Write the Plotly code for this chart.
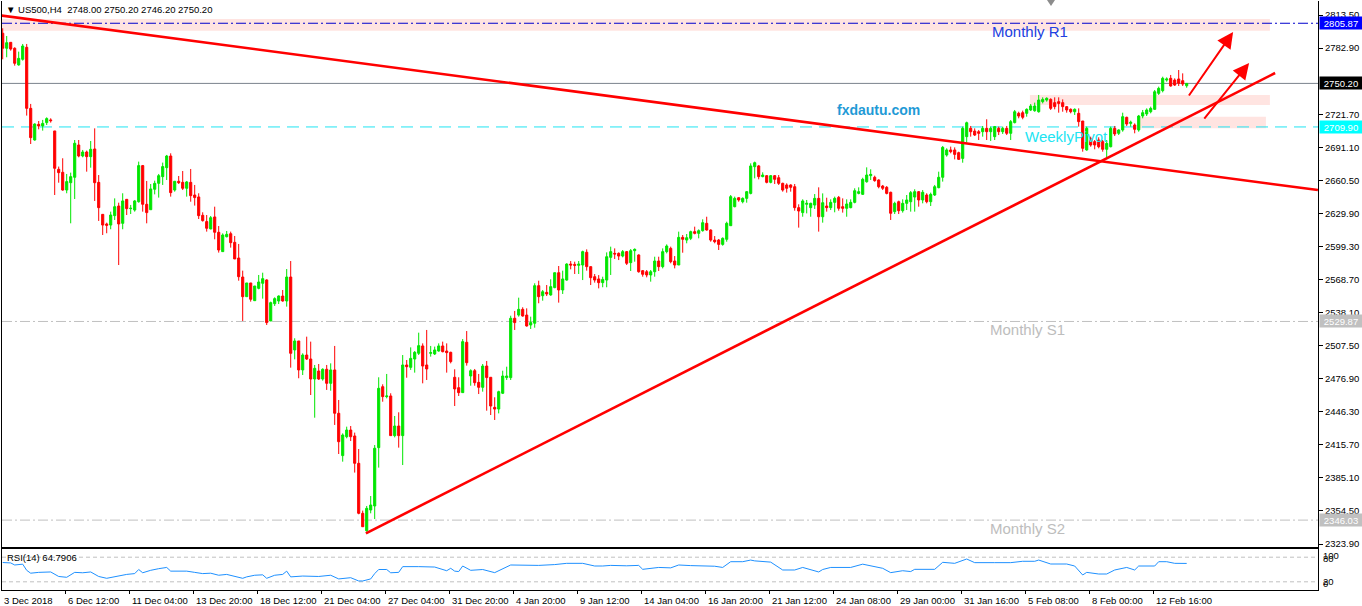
import plotly.graph_objects as go

# ---------------- data ----------------
opens = [2796.6,2782.7,2788.2,2782.7,2767.3,2772.5,2783.6,2727.1,2697.8,2712.3,2710.8,2713.9,2716.4,2706.2,2670.7,2667.9,2651.5,2658.3,2663.3,2693.2,
         2683.0,2686.7,2682.4,2689.5,2658.6,2629.0,2620.1,2619.1,2627.8,2636.7,2620.7,2642.9,2634.3,2633.0,2640.7,2674.1,2638.3,2633.3,2652.2,2657.7,
         2663.9,2672.2,2683.0,2651.5,2659.6,2658.6,2653.1,2658.6,2646.9,2645.1,2628.1,2622.3,2615.5,2626.6,2612.4,2594.5,2608.3,2611.1,2603.1,2588.6,
         2571.0,2552.8,2565.5,2549.1,2560.5,2565.2,2568.3,2530.3,2546.3,2548.8,2553.4,2548.8,2571.0,2503.5,2511.8,2485.0,2498.8,2495.1,2476.6,2484.0,
         2476.6,2485.6,2472.6,2485.0,2444.9,2405.7,2423.2,2429.4,2423.9,2398.6,2352.3,2336.2,2355.4,2359.1,2413.1,2469.5,2460.3,2460.9,2424.2,2433.1,
         2424.2,2489.6,2487.4,2495.1,2500.4,2507.2,2489.6,2500.4,2499.8,2502.5,2507.2,2502.5,2501.3,2478.2,2468.6,2464.0,2510.6,2479.4,2484.3,2473.5,
         2468.9,2488.6,2478.2,2450.4,2448.8,2463.4,2477.9,2477.9,2532.8,2535.8,2541.1,2535.8,2526.6,2528.2,2563.0,2553.7,2556.8,2554.4,2561.2,2575.0,
         2559.0,2568.2,2583.0,2582.7,2581.8,2582.1,2593.9,2580.6,2571.3,2569.2,2565.8,2568.2,2589.2,2592.9,2592.9,2590.4,2594.5,2584.3,2595.4,2591.4,
         2576.9,2575.9,2572.9,2575.9,2585.8,2580.6,2594.5,2597.5,2585.8,2582.1,2607.7,2605.2,2606.8,2613.0,2611.4,2613.9,2620.7,2614.5,2605.2,2605.2,
         2601.2,2605.9,2618.5,2636.1,2644.4,2640.7,2643.8,2648.4,2673.1,2673.8,2663.9,2664.8,2658.6,2664.8,2662.9,2657.7,2656.2,2656.2,2654.6,2635.2,
         2630.6,2638.3,2635.2,2637.6,2643.8,2626.8,2636.7,2635.2,2640.1,2644.7,2636.1,2634.6,2635.2,2640.1,2648.4,2647.5,2659.2,2664.8,2663.3,2660.8,
         2655.2,2654.0,2649.4,2631.5,2640.7,2632.4,2639.2,2640.7,2645.0,2650.0,2642.3,2646.9,2640.7,2646.9,2653.7,2663.3,2683.9,2688.6,2688.6,2686.1,
         2680.8,2700.9,2708.6,2706.1,2705.5,2705.5,2708.6,2705.5,2700.9,2708.6,2705.5,2708.6,2704.0,2713.9,2722.5,2723.1,2722.5,2725.6,2724.9,2724.0,
         2733.3,2734.8,2735.4,2732.4,2733.3,2732.4,2728.7,2726.2,2724.0,2722.5,2715.4,2688.6,2699.3,2696.3,2697.8,2696.3,2689.2,2691.6,2708.6,2704.0,
         2707.1,2718.8,2713.2,2711.7,2707.1,2720.0,2721.9,2724.0,2726.2,2741.0,2743.5,2753.3,2754.9,2753.3,2754.3,2752.7,2748.0]
highs = [2801.2,2794.1,2788.2,2783.6,2779.6,2786.7,2786.7,2731.2,2713.2,2715.4,2716.4,2718.8,2717.9,2706.2,2673.2,2680.9,2666.4,2667.6,2697.8,2697.8,
         2688.6,2688.0,2696.9,2708.6,2665.4,2629.0,2621.3,2631.5,2643.8,2639.8,2648.5,2642.9,2637.7,2642.3,2677.8,2674.7,2659.9,2657.1,2660.2,2666.4,
         2676.9,2684.0,2685.5,2659.9,2664.5,2669.1,2659.9,2671.0,2656.2,2648.5,2630.9,2628.4,2627.5,2636.1,2618.2,2611.4,2613.6,2613.0,2609.0,2601.6,
         2576.9,2565.5,2565.5,2562.7,2572.9,2575.0,2568.9,2548.2,2552.2,2554.0,2559.0,2578.4,2585.8,2514.3,2511.8,2500.4,2515.8,2511.2,2489.6,2490.5,
         2486.5,2489.6,2491.1,2507.2,2457.2,2426.3,2432.5,2433.1,2427.0,2411.8,2354.8,2359.1,2368.3,2415.5,2478.2,2471.7,2481.3,2463.4,2442.4,2445.8,
         2498.8,2494.2,2505.9,2502.5,2519.5,2509.6,2522.0,2507.2,2506.6,2509.6,2511.2,2509.6,2501.9,2485.6,2478.2,2513.6,2521.0,2485.6,2485.9,2481.3,
         2490.5,2493.3,2478.2,2459.7,2465.8,2484.3,2488.0,2535.2,2539.6,2551.9,2543.0,2542.0,2534.3,2565.2,2567.6,2559.0,2563.6,2568.9,2575.0,2581.2,
         2576.9,2583.7,2585.8,2585.2,2585.8,2595.4,2596.6,2580.6,2573.8,2572.8,2571.3,2593.8,2599.1,2597.5,2593.8,2596.0,2595.1,2596.9,2597.5,2592.0,
         2577.5,2577.5,2577.5,2589.8,2589.8,2597.5,2601.2,2599.1,2590.4,2613.0,2609.9,2610.8,2613.9,2617.6,2615.1,2624.4,2626.8,2615.1,2608.9,2606.2,
         2607.7,2622.2,2646.9,2645.4,2644.7,2644.7,2650.6,2676.2,2677.8,2674.7,2667.9,2665.4,2665.4,2665.4,2665.4,2658.3,2657.7,2656.8,2657.1,2638.3,
         2642.9,2642.3,2639.8,2647.8,2654.0,2648.4,2644.4,2642.9,2645.4,2646.0,2643.8,2642.9,2642.9,2653.1,2654.0,2662.9,2672.5,2670.7,2664.8,2661.4,
         2656.2,2655.2,2650.0,2640.7,2641.7,2642.9,2646.9,2650.6,2652.2,2650.6,2651.5,2648.5,2649.1,2656.2,2668.5,2692.3,2690.1,2691.7,2691.0,2687.0,
         2710.2,2714.8,2710.8,2708.6,2707.1,2710.8,2717.0,2710.2,2710.8,2710.2,2710.2,2710.8,2716.3,2725.6,2724.0,2725.0,2727.1,2731.1,2732.4,2739.5,
         2737.3,2737.3,2736.4,2737.3,2737.3,2735.4,2729.3,2727.1,2727.1,2727.1,2715.4,2710.2,2700.9,2697.8,2700.3,2697.8,2697.8,2710.2,2710.8,2707.7,
         2723.1,2719.4,2715.7,2713.2,2721.0,2725.6,2727.1,2728.7,2744.1,2747.2,2756.4,2755.8,2758.0,2754.9,2762.6,2759.5,2750.2]
lows = [2772.5,2774.4,2780.5,2766.6,2766.6,2771.3,2720.4,2694.1,2697.2,2707.7,2706.5,2711.7,2713.9,2646.9,2658.3,2650.9,2648.5,2620.7,2643.2,2681.8,
        2681.8,2668.5,2672.2,2641.4,2622.9,2609.9,2611.5,2615.2,2623.8,2582.1,2615.2,2628.4,2629.3,2631.5,2639.8,2631.5,2620.7,2633.3,2647.5,2644.5,
        2656.2,2660.8,2645.4,2650.0,2657.1,2651.5,2645.4,2640.7,2637.1,2624.7,2622.3,2613.0,2615.2,2605.9,2593.6,2594.5,2607.7,2598.2,2587.7,2567.6,
        2530.3,2552.8,2548.2,2549.1,2559.6,2551.0,2526.6,2530.3,2544.2,2546.0,2548.2,2543.6,2487.1,2494.8,2477.3,2480.3,2494.2,2461.8,2440.8,2475.7,
        2475.1,2466.5,2465.8,2434.1,2407.2,2400.1,2421.7,2419.2,2390.0,2351.4,2339.9,2335.3,2352.3,2347.0,2394.6,2455.6,2458.7,2424.2,2422.6,2413.1,
        2397.0,2477.8,2485.0,2482.5,2498.8,2472.6,2475.7,2497.3,2498.8,2501.9,2501.3,2482.5,2491.1,2451.6,2460.9,2464.0,2489.0,2470.4,2470.4,2462.7,
        2464.9,2447.3,2443.3,2438.7,2444.8,2462.7,2475.7,2475.7,2522.0,2534.3,2534.3,2525.1,2522.9,2524.1,2546.7,2549.1,2553.4,2553.7,2560.6,2547.3,
        2555.3,2567.6,2578.1,2573.8,2573.8,2568.2,2576.9,2563.6,2565.8,2560.5,2561.5,2561.5,2572.9,2587.7,2586.7,2589.2,2582.1,2576.6,2585.2,2575.0,
        2571.3,2570.7,2566.7,2571.3,2576.6,2579.0,2592.9,2583.7,2579.0,2582.1,2593.5,2602.2,2605.2,2610.5,2606.8,2613.0,2613.9,2603.7,2602.2,2596.0,
        2600.0,2603.7,2618.5,2635.5,2640.7,2639.2,2639.8,2647.5,2662.3,2661.4,2663.3,2657.7,2657.7,2657.1,2656.2,2650.0,2649.1,2650.0,2632.4,2616.7,
        2626.8,2629.9,2626.8,2634.0,2613.0,2621.3,2631.5,2633.0,2630.9,2632.4,2630.6,2626.8,2634.6,2639.2,2647.5,2646.9,2658.3,2660.8,2659.2,2653.1,
        2651.5,2647.5,2623.8,2629.3,2629.3,2630.6,2633.0,2631.5,2631.5,2636.1,2639.2,2639.2,2636.7,2646.0,2653.1,2659.3,2682.4,2685.5,2679.9,2679.3,
        2676.8,2695.3,2700.9,2701.5,2697.8,2700.9,2697.8,2696.9,2697.8,2702.4,2703.4,2702.4,2697.8,2713.2,2717.9,2717.0,2719.4,2724.6,2724.0,2723.1,
        2731.7,2733.3,2725.6,2726.2,2723.1,2724.0,2723.1,2722.5,2721.0,2710.2,2687.0,2687.9,2691.6,2689.2,2690.1,2687.0,2680.8,2691.0,2701.5,2702.4,
        2705.5,2710.8,2710.2,2704.0,2705.5,2717.9,2720.0,2722.5,2725.6,2739.5,2741.9,2751.8,2747.2,2747.8,2747.8,2747.8,2746.2]
closes = [2782.7,2787.9,2782.0,2768.8,2773.4,2784.8,2727.1,2700.0,2712.6,2710.8,2713.2,2717.6,2715.7,2671.6,2667.6,2651.5,2659.3,2663.9,2694.8,2683.0,
          2686.7,2682.4,2689.2,2658.3,2635.2,2619.1,2618.8,2628.4,2636.1,2620.1,2641.4,2634.3,2634.6,2641.4,2674.1,2638.3,2630.6,2652.5,2657.7,2664.8,
          2673.2,2683.0,2649.1,2659.6,2658.3,2653.1,2659.0,2646.3,2644.5,2627.8,2623.2,2616.1,2625.9,2612.4,2596.0,2609.9,2610.5,2602.8,2587.7,2571.3,
          2552.8,2565.5,2550.4,2562.7,2566.4,2569.5,2528.8,2547.3,2551.0,2553.4,2548.8,2571.0,2500.4,2511.8,2485.0,2498.8,2495.1,2476.6,2486.5,2476.6,
          2485.6,2472.6,2485.0,2444.9,2418.6,2424.8,2429.4,2423.2,2398.6,2352.3,2339.9,2356.9,2360.0,2412.5,2468.0,2460.3,2460.9,2424.2,2433.1,2424.2,
          2489.6,2488.0,2495.7,2501.3,2507.5,2488.6,2485.9,2501.0,2503.5,2507.2,2501.9,2501.0,2492.7,2467.4,2464.0,2511.2,2491.7,2484.3,2473.2,2468.9,
          2488.6,2477.9,2451.6,2448.8,2464.9,2479.4,2479.4,2532.8,2528.8,2541.1,2534.9,2525.7,2528.8,2563.0,2552.8,2557.4,2555.3,2562.1,2575.0,2559.0,
          2569.2,2583.0,2582.1,2581.8,2583.0,2594.5,2580.6,2570.4,2568.2,2565.8,2568.8,2589.8,2594.5,2592.3,2590.4,2594.5,2583.7,2595.4,2596.6,2575.9,
          2573.5,2572.9,2575.9,2585.8,2580.6,2594.5,2599.7,2585.2,2582.1,2607.7,2605.9,2607.4,2613.0,2611.4,2613.9,2621.3,2614.5,2605.2,2603.7,2601.2,
          2606.8,2620.7,2645.4,2643.8,2642.3,2643.8,2650.0,2673.8,2676.8,2663.9,2665.4,2658.6,2664.8,2661.4,2657.7,2651.5,2653.1,2654.0,2635.2,2632.1,
          2641.4,2639.2,2639.2,2643.8,2626.8,2639.8,2635.2,2640.1,2643.8,2634.6,2634.6,2638.6,2640.1,2650.9,2650.0,2661.4,2665.4,2666.0,2660.2,2654.6,
          2653.1,2648.4,2630.0,2639.2,2632.4,2639.2,2642.3,2649.1,2650.0,2642.3,2649.4,2640.7,2647.5,2654.6,2663.3,2691.0,2688.6,2687.0,2684.5,2679.9,
          2708.6,2713.8,2705.5,2702.4,2704.0,2708.6,2705.5,2708.6,2710.2,2705.5,2708.6,2704.0,2714.8,2724.0,2720.0,2718.8,2726.2,2729.3,2729.3,2734.8,
          2735.4,2736.4,2727.1,2728.7,2731.7,2728.7,2725.6,2724.0,2726.2,2714.8,2690.1,2708.6,2693.2,2693.2,2691.6,2689.2,2694.7,2708.6,2703.4,2707.1,
          2719.4,2712.6,2714.2,2707.7,2720.0,2723.1,2725.6,2727.1,2742.5,2745.6,2754.9,2754.3,2747.8,2748.7,2750.3,2749.6,2750.2]

date_labels = ["3 Dec 2018", "6 Dec 12:00", "11 Dec 04:00", "13 Dec 20:00", "18 Dec 12:00", "21 Dec 04:00",
               "27 Dec 04:00", "31 Dec 20:00", "4 Jan 20:00", "9 Jan 12:00", "14 Jan 04:00", "16 Jan 20:00",
               "21 Jan 12:00", "24 Jan 08:00", "29 Jan 00:00", "31 Jan 16:00", "5 Feb 08:00", "8 Feb 00:00",
               "12 Feb 16:00"]
label_bars = [0, 16, 32, 48, 64, 80, 96, 112, 128, 144, 160, 176, 192, 208, 224, 240, 256, 272, 288]

price_ticks = [2813.50, 2782.90, 2721.70, 2691.10, 2660.50, 2629.90, 2599.30, 2568.70, 2538.10,
               2507.50, 2476.90, 2446.30, 2415.70, 2385.10, 2354.50, 2323.90]

rsi_bars = [0, 2, 3, 5, 6, 7, 9, 12, 14, 16, 18, 20, 22, 24, 26, 28, 31, 33, 34, 35, 37, 39, 41, 42, 44, 46, 48,
            50, 52, 54, 56, 58, 60, 61, 63, 65, 66, 68, 70, 71, 72, 75, 79, 82, 84, 87, 89, 90, 92, 93, 94, 96,
            97, 99, 100, 104, 108, 111, 112, 113, 114, 115, 117, 120, 122, 123, 127, 130, 134, 138, 141, 145,
            148, 150, 152, 156, 159, 160, 164, 167, 169, 172, 176, 178, 180, 182, 185, 187, 188, 192, 195, 198,
            200, 204, 205, 207, 212, 215, 220, 222, 225, 227, 228, 233, 235, 238, 241, 243, 248, 252, 255, 258,
            259, 262, 266, 268, 270, 271, 274, 276, 278, 281, 283, 284, 288, 289, 291, 293, 296]
rsi_vals = [67, 66, 61, 63, 48, 41, 43, 44, 33, 31, 43, 42, 44, 33, 28.5, 33, 38, 40, 50, 42, 48, 52, 55, 46, 46,
            46, 43, 40, 41, 36, 38, 33, 28.5, 32, 36, 37, 28.5, 36, 38, 46, 32, 34, 33, 36, 27, 30, 22, 22, 27,
            40, 50, 50, 42, 43, 57, 57, 56, 47, 52.9, 46, 45, 58.5, 48, 50, 45, 42.3, 61, 60, 60, 62, 65, 65,
            58.5, 58.5, 60, 59, 60, 50.4, 55, 54, 61, 59.5, 59.5, 58, 55, 69, 69, 73, 71, 68, 48.8, 48.8, 55, 44,
            50, 55, 55, 63, 52.9, 42.3, 47, 45, 50.4, 50.4, 67.5, 65, 75.6, 66.7, 66.7, 66.7, 70, 70, 73, 63.4,
            63.4, 58.5, 36.6, 43, 39, 39, 48.8, 55, 48.8, 58.5, 58.5, 69, 69, 65, 64.79]
rsi_levels = [80, 20]

level_r1, level_last, level_pivot, level_s1, level_s2 = 2805.87, 2750.20, 2709.90, 2529.87, 2346.03

downtrend_x, downtrend_y = [-0.7, 328.8], [2813.2, 2651.5]
uptrend_x, uptrend_y = [90.8, 318.1], [2333.8, 2759.8]
arrow1 = (296.3, 2737.6, 307.6, 2797.8)
arrow2 = (300.1, 2716.3, 311.6, 2769.1)
zone_r1 = (-0.5, 316.8, 2799.0, 2809.8)
zone_a = (256.8, 316.8, 2730.2, 2739.5)
zone_b = (284.3, 315.8, 2708.6, 2719.4)

# ---------------- figure ----------------
W, H = 1362, 606
ML, MR, MT, MB = 2, 44, 1, 16
PW, PH = W - ML - MR, H - MT - MB
XR = [-0.175, 328.825]
YR = [2321.13, 2826.46]
FONT = "Liberation Sans, Arial, sans-serif"
GREEN, RED = "#00e600", "#ff0000"


def py(p):
    return (H - MB - p) / PH


def px(p):
    return (p - ML) / PW


n = len(closes)
xs = list(range(n))

fig = go.Figure()
fig.add_trace(go.Candlestick(
    x=xs, open=opens, high=highs, low=lows, close=closes,
    increasing=dict(line=dict(color=GREEN, width=1), fillcolor=GREEN),
    decreasing=dict(line=dict(color=RED, width=1), fillcolor=RED),
    whiskerwidth=0, hoverinfo="skip", xaxis="x", yaxis="y", showlegend=False))

fig.add_trace(go.Scatter(x=downtrend_x, y=downtrend_y, mode="lines",
                         line=dict(color=RED, width=2.6), xaxis="x", yaxis="y",
                         hoverinfo="skip", showlegend=False, cliponaxis=True))
fig.add_trace(go.Scatter(x=uptrend_x, y=uptrend_y, mode="lines",
                         line=dict(color=RED, width=2.6), xaxis="x", yaxis="y",
                         hoverinfo="skip", showlegend=False))

fig.add_trace(go.Scatter(x=rsi_bars, y=rsi_vals, mode="lines",
                         line=dict(color="#1e90ff", width=1), xaxis="x2", yaxis="y2",
                         hoverinfo="skip", showlegend=False))

shapes = []
for (x0, x1, y0, y1) in (zone_r1, zone_a, zone_b):
    shapes.append(dict(type="rect", xref="x", yref="y", x0=x0, x1=x1, y0=y0, y1=y1,
                       fillcolor="#ffe4e1", line=dict(width=0), layer="below"))


def hline(val, color, dash):
    return dict(type="line", xref="x", yref="y", x0=XR[0], x1=XR[1], y0=val, y1=val,
                line=dict(color=color, width=1, dash=dash), layer="below")


shapes.append(hline(level_r1, "#0000cd", "10px,3px,2px,3px"))
shapes.append(hline(level_last, "#7a828c", "solid"))
shapes.append(hline(level_pivot, "#20e4f2", "12px,7px"))
shapes.append(hline(level_s1, "#c0c0c0", "10px,3px,2px,3px"))
shapes.append(hline(level_s2, "#c0c0c0", "10px,3px,2px,3px"))
for lv in rsi_levels:
    shapes.append(dict(type="line", xref="x2", yref="y2", x0=XR[0], x1=XR[1], y0=lv, y1=lv,
                       line=dict(color="#c0c0c0", width=1, dash="4px,3px"), layer="below"))
# chart-shift marker
shapes.append(dict(type="path", xref="paper", yref="paper",
                   path=f"M {px(1047)} {py(0)} L {px(1055)} {py(0)} L {px(1051)} {py(6)} Z",
                   fillcolor="#8c8c8c", line=dict(width=0)))

ann = []
small = dict(family=FONT, size=9.5, color="black")
ann.append(dict(xref="paper", yref="paper", x=px(4), y=py(9), xanchor="left", yanchor="middle",
                text="▼\u00a0US500,H4\u00a0\u00a02748.00 2750.20 2746.20 2750.20", showarrow=False, font=small))
ann.append(dict(xref="paper", yref="paper", x=px(5), y=py(557), xanchor="left", yanchor="middle",
                text="RSI(14) 64.7906", showarrow=False, font=small))
# price tags on the right axis
for val, bg in ((level_r1, "#0000ff"), (level_last, "#000000"), (level_pivot, "#00ffff"),
                (level_s1, "#c0c0c0"), (level_s2, "#c0c0c0")):
    ann.append(dict(xref="paper", yref="y", x=1, y=val, xanchor="left", yanchor="middle", xshift=1,
                    text=f"{val:.2f}", showarrow=False, bgcolor=bg, width=40, height=10, borderpad=1,
                    font=dict(family=FONT, size=9.5, color="white")))
# rsi scale labels
for txt, ypx in (("100", 555), (str(rsi_levels[0]), 558), (str(rsi_levels[1]), 581.5), ("0", 583)):
    ann.append(dict(xref="paper", yref="paper", x=px(1321), y=py(ypx), xanchor="left", yanchor="middle",
                    text=txt, showarrow=False, font=small))
# date labels
for b, t in zip(label_bars, date_labels):
    ann.append(dict(xref="x2", yref="paper", x=b, xshift=-1, y=py(600), xanchor="left", yanchor="middle",
                    text=t, showarrow=False, font=small))
# object texts
ann.append(dict(xref="x", yref="y", x=246.8, y=2797.8, xanchor="left", yanchor="middle", text="Monthly R1",
                showarrow=False, font=dict(family=FONT, size=15, color="#2040e0")))
ann.append(dict(xref="x", yref="y", x=255.1, y=2700.6, xanchor="left", yanchor="middle", text="WeeklyPivot",
                showarrow=False, font=dict(family=FONT, size=15, color="#20e4f2")))
ann.append(dict(xref="x", yref="y", x=246.3, y=2522.0, xanchor="left", yanchor="middle", text="Monthly S1",
                showarrow=False, font=dict(family=FONT, size=15, color="#bdbdbd")))
ann.append(dict(xref="x", yref="y", x=246.3, y=2338.7, xanchor="left", yanchor="middle", text="Monthly S2",
                showarrow=False, font=dict(family=FONT, size=15, color="#bdbdbd")))
ann.append(dict(xref="x", yref="y", x=208.1, y=2725.6, xanchor="left", yanchor="middle", text="<b>fxdautu.com</b>",
                showarrow=False, font=dict(family=FONT, size=14, color="#1f9ad6")))
# arrows
for (tx, ty, hx, hy) in (arrow1, arrow2):
    ann.append(dict(xref="x", yref="y", axref="x", ayref="y", x=hx, y=hy, ax=tx, ay=ty, text="",
                    showarrow=True, arrowhead=2, arrowsize=1.6, arrowwidth=2, arrowcolor=RED, standoff=0))

main_bottom = py(547)
rsi_top = py(548.5)

fig.update_layout(
    width=W, height=H, margin=dict(l=ML, r=MR, t=MT, b=MB),
    paper_bgcolor="white", plot_bgcolor="white", showlegend=False,
    boxgap=0.25,
    xaxis=dict(domain=[0, 1], range=XR, anchor="y", showgrid=False, zeroline=False, showticklabels=False,
               showline=True, linecolor="black", linewidth=1, mirror=False, ticks="",
               rangeslider=dict(visible=False), fixedrange=True),
    yaxis=dict(domain=[main_bottom, 1], range=YR, side="right", anchor="x", showgrid=False, zeroline=False,
               tickvals=price_ticks, ticktext=[f"{v:.2f}" for v in price_ticks], ticks="outside", ticklen=4,
               tickcolor="black", tickfont=dict(family=FONT, size=9.5, color="black"),
               showline=True, linecolor="black", linewidth=1, mirror=True, fixedrange=True),
    xaxis2=dict(domain=[0, 1], range=XR, anchor="y2", showgrid=False, zeroline=False, showticklabels=False,
                tickvals=[b - 0.4 for b in label_bars], ticks="outside", ticklen=3, tickcolor="black",
                showline=True, linecolor="black", linewidth=1, mirror=True, fixedrange=True),
    yaxis2=dict(domain=[0, rsi_top], range=[0, 101.2], side="right", anchor="x2", showgrid=False,
                zeroline=False, showticklabels=False, ticks="", showline=True, linecolor="black",
                linewidth=1, mirror=True, fixedrange=True),
    shapes=shapes, annotations=ann,
)

fig.write_html("out.html", config={"displayModeBar": False},
               post_script="document.body.style.margin='0px';document.body.style.overflow='hidden';")
